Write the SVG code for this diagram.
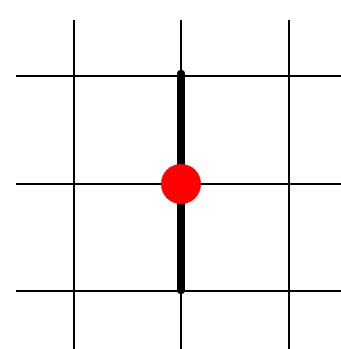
<svg xmlns="http://www.w3.org/2000/svg" width="341" height="349" viewBox="0 0 341 349">
<style>
.grid{stroke:#000;stroke-width:2;fill:none}
.thick{stroke:#000;stroke-width:8;stroke-linecap:round;fill:none}
</style>
<rect width="341" height="349" fill="#fff"/>
<g id="connectors">
<line class="grid" x1="74" y1="20" x2="74" y2="349"/>
<line class="grid" x1="181" y1="20" x2="181" y2="349"/>
<line class="grid" x1="289" y1="20" x2="289" y2="349"/>
<line class="grid" x1="16" y1="76" x2="341" y2="76"/>
<line class="grid" x1="16" y1="184" x2="341" y2="184"/>
<line class="grid" x1="16" y1="291" x2="341" y2="291"/>
<line class="thick" x1="181" y1="74" x2="181" y2="290"/>
</g>
<g id="point">
<circle cx="181" cy="184" r="20" fill="#f00"/>
</g>
</svg>
